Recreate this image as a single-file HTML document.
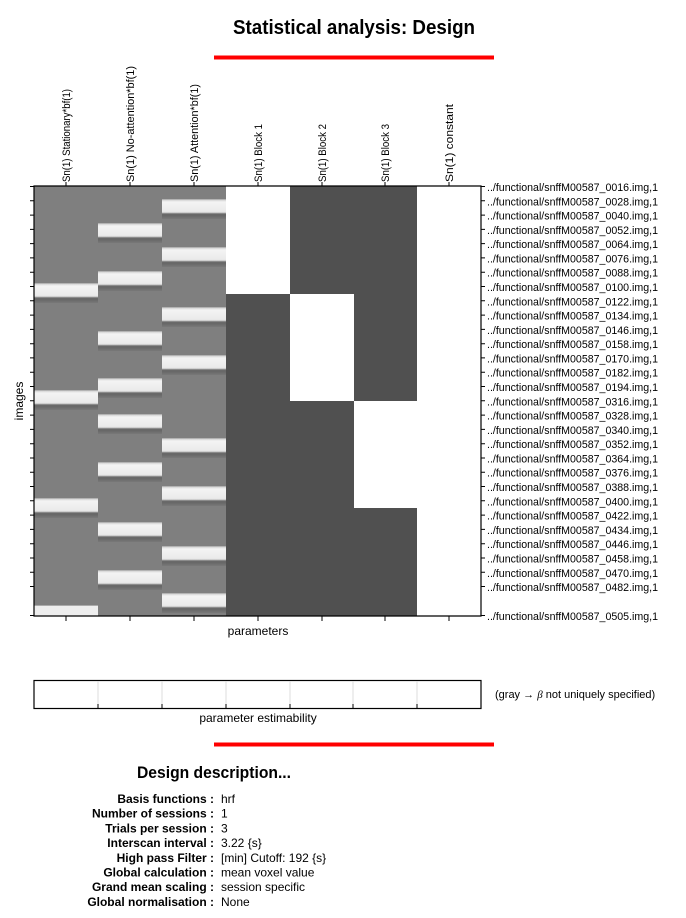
<!DOCTYPE html>
<html><head><meta charset="utf-8"><style>
html,body{margin:0;padding:0;background:#fff;width:686px;height:918px;overflow:hidden}
svg{display:block}
text{font-family:"Liberation Sans",sans-serif;fill:#000}
</style></head><body>
<svg width="686" height="918" viewBox="0 0 686 918" xmlns="http://www.w3.org/2000/svg">
<defs>
<linearGradient id="bar" x1="0" y1="0" x2="0" y2="1">
<stop offset="0" stop-color="#9a9a9a"/><stop offset="0.06" stop-color="#d8d8d8"/>
<stop offset="0.15" stop-color="#f4f4f4"/><stop offset="0.55" stop-color="#ececec"/>
<stop offset="0.66" stop-color="#e6e6e6"/><stop offset="0.7" stop-color="#a8a8a8"/>
<stop offset="0.74" stop-color="#7a7a7a"/><stop offset="0.78" stop-color="#646464"/>
<stop offset="0.9" stop-color="#6e6e6e"/><stop offset="1" stop-color="#787878"/>
</linearGradient>
</defs>
<text x="233" y="34" font-size="20" font-weight="bold" textLength="242" lengthAdjust="spacingAndGlyphs">Statistical analysis: Design</text>
<rect x="214" y="55.5" width="280" height="4" fill="#f00"/>

<rect x="34" y="186" width="192" height="430" fill="#7f7f7f"/>
<rect x="226" y="186" width="64" height="108" fill="#fff"/>
<rect x="226" y="294" width="64" height="322" fill="#505050"/>
<rect x="290" y="186" width="64" height="108" fill="#505050"/>
<rect x="290" y="294" width="64" height="107" fill="#fff"/>
<rect x="290" y="401" width="64" height="215" fill="#505050"/>
<rect x="354" y="186" width="63" height="215" fill="#505050"/>
<rect x="354" y="401" width="63" height="107" fill="#fff"/>
<rect x="354" y="508" width="63" height="108" fill="#505050"/>
<rect x="417" y="186" width="64" height="430" fill="#fff"/>
<g fill="url(#bar)">
<rect x="34" y="283" width="64" height="20"/>
<rect x="34" y="390" width="64" height="20"/>
<rect x="34" y="498" width="64" height="20"/>
<rect x="34" y="605" width="64" height="11" fill="#eee"/>
<rect x="98" y="223" width="64" height="20"/>
<rect x="98" y="271" width="64" height="20"/>
<rect x="98" y="331" width="64" height="20"/>
<rect x="98" y="378" width="64" height="20"/>
<rect x="98" y="414" width="64" height="20"/>
<rect x="98" y="462" width="64" height="20"/>
<rect x="98" y="522" width="64" height="20"/>
<rect x="98" y="570" width="64" height="20"/>
<rect x="162" y="199" width="64" height="20"/>
<rect x="162" y="247" width="64" height="20"/>
<rect x="162" y="307" width="64" height="20"/>
<rect x="162" y="355" width="64" height="20"/>
<rect x="162" y="438" width="64" height="20"/>
<rect x="162" y="486" width="64" height="20"/>
<rect x="162" y="546" width="64" height="20"/>
<rect x="162" y="593" width="64" height="20"/>
</g>
<rect x="34" y="605" width="64" height="1" fill="#aaa"/>
<path d="M34 186 H481 V616 H34 Z" fill="none" stroke="#000" stroke-width="1.2"/>

<g stroke="#000" stroke-width="1">
<path d="M30 186.5h4M30 200.8h4M30 215.1h4M30 229.4h4M30 243.6h4M30 257.9h4M30 272.2h4M30 286.5h4M30 300.8h4M30 315.1h4M30 329.4h4M30 343.7h4M30 357.9h4M30 372.2h4M30 386.5h4M30 400.8h4M30 415.1h4M30 429.4h4M30 443.7h4M30 458h4M30 472.2h4M30 486.5h4M30 500.8h4M30 515.1h4M30 529.4h4M30 543.7h4M30 558h4M30 572.3h4M30 586.5h4M30 615.5h4"/>
<path d="M481 186.5h4M481 200.8h4M481 215.1h4M481 229.4h4M481 243.6h4M481 257.9h4M481 272.2h4M481 286.5h4M481 300.8h4M481 315.1h4M481 329.4h4M481 343.7h4M481 357.9h4M481 372.2h4M481 386.5h4M481 400.8h4M481 415.1h4M481 429.4h4M481 443.7h4M481 458h4M481 472.2h4M481 486.5h4M481 500.8h4M481 515.1h4M481 529.4h4M481 543.7h4M481 558h4M481 572.3h4M481 586.5h4M481 615.5h4"/>
<path d="M66 182v4M130 182v4M194 182v4M258 182v4M322 182v4M385 182v4M449 182v4"/>
<path d="M66 616v5M130 616v5M194 616v5M258 616v5M322 616v5M385 616v5M449 616v5"/>
</g>

<g font-size="11">
<text transform="translate(70,182) rotate(-90)" textLength="93" lengthAdjust="spacingAndGlyphs">Sn(1) Stationary*bf(1)</text>
<text transform="translate(134,182) rotate(-90)" textLength="116" lengthAdjust="spacingAndGlyphs">Sn(1) No-attention*bf(1)</text>
<text transform="translate(198,182) rotate(-90)" textLength="98" lengthAdjust="spacingAndGlyphs">Sn(1) Attention*bf(1)</text>
<text transform="translate(262,182) rotate(-90)" textLength="58" lengthAdjust="spacingAndGlyphs">Sn(1) Block 1</text>
<text transform="translate(326,182) rotate(-90)" textLength="58" lengthAdjust="spacingAndGlyphs">Sn(1) Block 2</text>
<text transform="translate(389,182) rotate(-90)" textLength="58" lengthAdjust="spacingAndGlyphs">Sn(1) Block 3</text>
<text transform="translate(453,182) rotate(-90)" textLength="78" lengthAdjust="spacingAndGlyphs">Sn(1) constant</text>
</g>

<g font-size="11">
<text x="487" y="191" textLength="171" lengthAdjust="spacingAndGlyphs">../functional/snffM00587_0016.img,1</text>
<text x="487" y="205.3" textLength="171" lengthAdjust="spacingAndGlyphs">../functional/snffM00587_0028.img,1</text>
<text x="487" y="219.6" textLength="171" lengthAdjust="spacingAndGlyphs">../functional/snffM00587_0040.img,1</text>
<text x="487" y="233.9" textLength="171" lengthAdjust="spacingAndGlyphs">../functional/snffM00587_0052.img,1</text>
<text x="487" y="248.1" textLength="171" lengthAdjust="spacingAndGlyphs">../functional/snffM00587_0064.img,1</text>
<text x="487" y="262.4" textLength="171" lengthAdjust="spacingAndGlyphs">../functional/snffM00587_0076.img,1</text>
<text x="487" y="276.7" textLength="171" lengthAdjust="spacingAndGlyphs">../functional/snffM00587_0088.img,1</text>
<text x="487" y="291" textLength="171" lengthAdjust="spacingAndGlyphs">../functional/snffM00587_0100.img,1</text>
<text x="487" y="305.3" textLength="171" lengthAdjust="spacingAndGlyphs">../functional/snffM00587_0122.img,1</text>
<text x="487" y="319.6" textLength="171" lengthAdjust="spacingAndGlyphs">../functional/snffM00587_0134.img,1</text>
<text x="487" y="333.9" textLength="171" lengthAdjust="spacingAndGlyphs">../functional/snffM00587_0146.img,1</text>
<text x="487" y="348.2" textLength="171" lengthAdjust="spacingAndGlyphs">../functional/snffM00587_0158.img,1</text>
<text x="487" y="362.4" textLength="171" lengthAdjust="spacingAndGlyphs">../functional/snffM00587_0170.img,1</text>
<text x="487" y="376.7" textLength="171" lengthAdjust="spacingAndGlyphs">../functional/snffM00587_0182.img,1</text>
<text x="487" y="391" textLength="171" lengthAdjust="spacingAndGlyphs">../functional/snffM00587_0194.img,1</text>
<text x="487" y="405.3" textLength="171" lengthAdjust="spacingAndGlyphs">../functional/snffM00587_0316.img,1</text>
<text x="487" y="419.6" textLength="171" lengthAdjust="spacingAndGlyphs">../functional/snffM00587_0328.img,1</text>
<text x="487" y="433.9" textLength="171" lengthAdjust="spacingAndGlyphs">../functional/snffM00587_0340.img,1</text>
<text x="487" y="448.2" textLength="171" lengthAdjust="spacingAndGlyphs">../functional/snffM00587_0352.img,1</text>
<text x="487" y="462.5" textLength="171" lengthAdjust="spacingAndGlyphs">../functional/snffM00587_0364.img,1</text>
<text x="487" y="476.7" textLength="171" lengthAdjust="spacingAndGlyphs">../functional/snffM00587_0376.img,1</text>
<text x="487" y="491" textLength="171" lengthAdjust="spacingAndGlyphs">../functional/snffM00587_0388.img,1</text>
<text x="487" y="505.3" textLength="171" lengthAdjust="spacingAndGlyphs">../functional/snffM00587_0400.img,1</text>
<text x="487" y="519.6" textLength="171" lengthAdjust="spacingAndGlyphs">../functional/snffM00587_0422.img,1</text>
<text x="487" y="533.9" textLength="171" lengthAdjust="spacingAndGlyphs">../functional/snffM00587_0434.img,1</text>
<text x="487" y="548.2" textLength="171" lengthAdjust="spacingAndGlyphs">../functional/snffM00587_0446.img,1</text>
<text x="487" y="562.5" textLength="171" lengthAdjust="spacingAndGlyphs">../functional/snffM00587_0458.img,1</text>
<text x="487" y="576.8" textLength="171" lengthAdjust="spacingAndGlyphs">../functional/snffM00587_0470.img,1</text>
<text x="487" y="591" textLength="171" lengthAdjust="spacingAndGlyphs">../functional/snffM00587_0482.img,1</text>
<text x="487" y="620" textLength="171" lengthAdjust="spacingAndGlyphs">../functional/snffM00587_0505.img,1</text>
</g>

<text transform="translate(23,401) rotate(-90)" font-size="12" text-anchor="middle">images</text>
<text x="258" y="635" font-size="12" text-anchor="middle">parameters</text>

<rect x="34" y="680.5" width="447" height="28" fill="#fff" stroke="#000" stroke-width="1.2"/>
<g stroke="#ddd"><path d="M98 681v27M162 681v27M226 681v27M290 681v27M353 681v27M417 681v27"/></g>
<g stroke="#000"><path d="M98 704v4M162 704v4M226 704v4M290 704v4M353 704v4M417 704v4"/></g>
<text x="258" y="722" font-size="12" text-anchor="middle">parameter estimability</text>
<text x="495" y="698" font-size="11">(gray → <tspan font-family="Liberation Serif" font-style="italic">β</tspan> not uniquely specified)</text>

<rect x="214" y="742.5" width="280" height="4" fill="#f00"/>

<text x="137" y="778" font-size="17" font-weight="bold" textLength="154" lengthAdjust="spacingAndGlyphs">Design description...</text>
<g font-size="12">
<g font-weight="bold" text-anchor="end">
<text x="214" y="803">Basis functions :</text>
<text x="214" y="817.7">Number of sessions :</text>
<text x="214" y="832.4">Trials per session :</text>
<text x="214" y="847.1">Interscan interval :</text>
<text x="214" y="861.8">High pass Filter :</text>
<text x="214" y="876.5">Global calculation :</text>
<text x="214" y="891.2">Grand mean scaling :</text>
<text x="214" y="905.9">Global normalisation :</text>
</g>
<text x="221" y="803">hrf</text>
<text x="221" y="817.7">1</text>
<text x="221" y="832.4">3</text>
<text x="221" y="847.1">3.22 {s}</text>
<text x="221" y="861.8">[min] Cutoff: 192 {s}</text>
<text x="221" y="876.5">mean voxel value</text>
<text x="221" y="891.2">session specific</text>
<text x="221" y="905.9">None</text>
</g>
</svg>
</body></html>
